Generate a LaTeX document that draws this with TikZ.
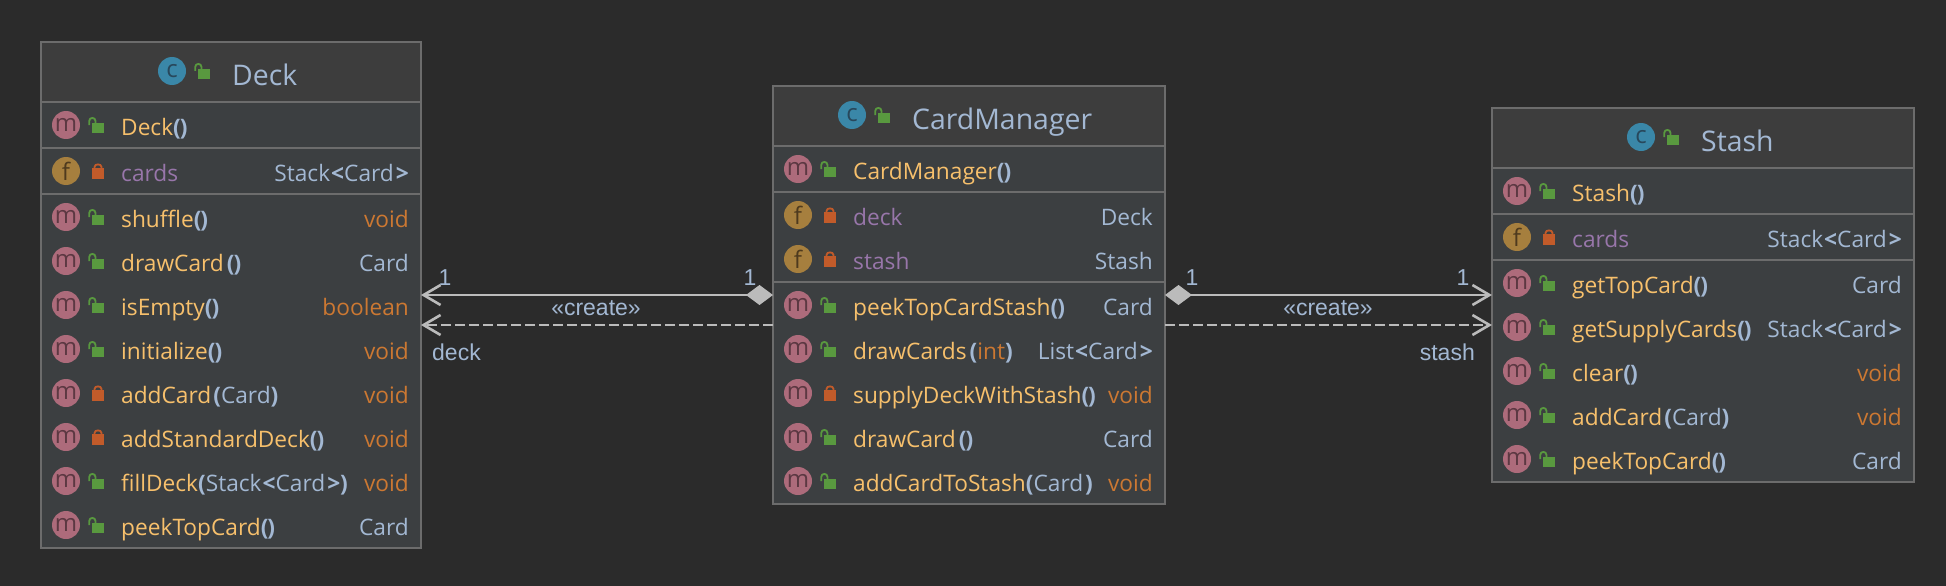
\documentclass[tikz,border=0pt]{standalone}
\usepackage{fontspec}
\setmainfont{Open Sans}
\newfontfamily\lblfont{Liberation Sans}
\usepackage{xcolor}
\usetikzlibrary{arrows.meta}

\definecolor{canvasbg}{HTML}{2B2B2B}
\definecolor{bodybg}{HTML}{3C3F41}
\definecolor{headbg}{HTML}{3D3D3D}
\definecolor{framecol}{HTML}{6C6C6C}
\definecolor{relcol}{HTML}{BBBBBB}
\definecolor{typecol}{HTML}{A3B8D3}
\definecolor{mthcol}{HTML}{F7C06C}
\definecolor{fldcol}{HTML}{9876AA}
\definecolor{kwcol}{HTML}{CC7832}
\definecolor{pubcol}{HTML}{59993F}
\definecolor{privcol}{HTML}{C25B2A}

\newcommand{\mth}[1]{{\color{mthcol}#1}}
\newcommand{\fld}[1]{{\color{fldcol}#1}}
\newcommand{\ty}[1]{{\color{typecol}#1}}
\newcommand{\kw}[1]{{\color{kwcol}#1}}
\newcommand{\pn}[1]{{\bfseries\color{typecol}#1}}
\newcommand{\ep}{\pn{(\kern-1pt)}}
\newcommand{\stk}[1]{\ty{#1\kern1pt\pn{<}Card\kern2pt\pn{>}}}

\tikzset{
    rowbadge/.style = {circle, minimum size = 28pt, inner sep = 0pt, outer sep = 0pt, font = \fontsize{24}{26}\selectfont},
    mbadge/.style = {rowbadge, fill = {rgb,255:red,173;green,107;blue,123}, text = {rgb,255:red,92;green,56;blue,66}},
    fbadge/.style = {rowbadge, fill = {rgb,255:red,166;green,127;blue,62}, text = {rgb,255:red,78;green,58;blue,30}},
    cbadge/.style = {rowbadge, fill = {rgb,255:red,58;green,135;blue,168}, text = {rgb,255:red,40;green,72;blue,92}},
    rowname/.style = {anchor = base west, inner sep = 0pt, font = \fontsize{22.7}{26}\selectfont},
    rowtype/.style = {anchor = base east, inner sep = 0pt, font = \fontsize{22.7}{26}\selectfont},
    titletext/.style = {anchor = base west, inner sep = 0pt, text = typecol, font = \fontsize{28.4}{32}\selectfont},
    classbody/.style = {rectangle, inner sep = 0pt, outer sep = 0pt, fill = bodybg},
    classframe/.style = {draw = framecol, line width = 2.2pt},
    edgelabel/.style = {anchor = base, inner sep = 0pt, text = typecol, font = \lblfont\fontsize{23}{26}\selectfont},
    solidrel/.style = {draw = relcol, line width = 2.6pt, {Diamond[length = 27pt, width = 20pt, fill = relcol]}-{Straight Barb[length = 17pt, width = 20pt]}},
    dashrel/.style = {draw = relcol, line width = 2.6pt, dash pattern = on 10pt off 4pt, -{Straight Barb[length = 17pt, width = 20pt, sep = 0pt]}},
    publock/.pic = {
        \fill[pubcol] (26,-2) rectangle (38,8);
        \draw[pubcol, line width = 1.8pt] (23.2,0) -- (23.2,-4) .. controls (23.2,-8.1) and (29.5,-8.1) .. (29.5,-4) -- (29.5,-2);
    },
    privlock/.pic = {
        \fill[privcol] (26,-3) rectangle (38,8);
        \draw[privcol, line width = 1.8pt] (28.5,-2) -- (28.5,-4) .. controls (28.5,-7.5) and (35.5,-7.5) .. (35.5,-4) -- (35.5,-2);
    }
}

% name, left, top, right, bottom, head line, other lines
\newcommand{\classbox}[7]{
    \node[classbody, minimum width = {#4-#2}, minimum height = {#5-#3}] (#1) at ({(#2+#4)/2},{(#3+#5)/2}) {};
    \fill[headbg] (#2,#3) rectangle (#4,#6);
    \foreach \sepy in {#6,#7}
        \draw[framecol, line width = 2.2pt] (#2,\sepy) -- (#4,\sepy);
    \draw[classframe] (#1.north west) rectangle (#1.south east);
}

\begin{document}
\begin{tikzpicture}[x = 1pt, y = -1pt]
\useasboundingbox (0,0) rectangle (1946,586);
\fill[canvasbg] (0,0) rectangle (1946,586);

\classbox{deck}{41}{42}{421}{548}{102}{148,194}
\classbox{manager}{773}{86}{1165}{504}{146}{192,282}
\classbox{stash}{1492}{108}{1914}{482}{168}{214,260}

% Deck
\begin{scope}[xshift = 66pt]
\node[cbadge] (deckc) at (106,71) {c};
\pic at (106,71) {publock};
\node[titletext] (decktitle) at (166,85) {Deck};
\foreach \rowid/\yy/\kind/\vis/\lhs/\rhs in {
    a/125/m/pub/{\mth{Deck}\ep}/{},
    b/171/f/priv/{\fld{cards}}/{\stk{Stack}},
    c/217/m/pub/{\mth{shuffle}\ep}/{\kw{void}},
    d/261/m/pub/{\mth{drawCard}\kern3pt\ep}/{\ty{Card}},
    e/305/m/pub/{\mth{isEmpty}\ep}/{\kw{boolean}},
    f/349/m/pub/{\mth{initialize}\ep}/{\kw{void}},
    g/393/m/priv/{\mth{addCard}\kern2pt\pn{(}\ty{Card}\pn{)}}/{\kw{void}},
    h/437/m/priv/{\mth{addStandardDeck}\ep}/{\kw{void}},
    i/481/m/pub/{\mth{fillDeck}\pn{(}\stk{Stack}\pn{)}}/{\kw{void}},
    j/525/m/pub/{\mth{peekTopCard}\ep}/{\ty{Card}}}
{
    \node[\kind badge] (deck\rowid i) at (0,\yy) {\kind};
    \pic at (0,\yy) {\vis lock};
    \node[rowname] (deck\rowid l) at (55,\yy+10.5) {\lhs};
    \node[rowtype] (deck\rowid r) at (343,\yy+10.5) {\rhs};
}
\end{scope}

% CardManager
\begin{scope}[xshift = 798pt]
\node[cbadge] (managerc) at (54,115) {c};
\pic at (54,115) {publock};
\node[titletext] (managertitle) at (114,129) {CardManager};
\foreach \rowid/\yy/\kind/\vis/\lhs/\rhs in {
    a/169/m/pub/{\mth{CardManager}\ep}/{},
    b/215/f/priv/{\fld{deck}}/{\ty{Deck}},
    c/259/f/priv/{\fld{stash}}/{\ty{Stash}},
    d/305/m/pub/{\mth{peekTopCardStash}\ep}/{\ty{Card}},
    e/349/m/pub/{\mth{drawCards}\kern3pt\pn{(}\kw{int}\pn{)}}/{\stk{List}},
    f/393/m/priv/{\mth{supplyDeckWithStash}\ep}/{\kw{void}},
    g/437/m/pub/{\mth{drawCard}\kern3pt\ep}/{\ty{Card}},
    h/481/m/pub/{\mth{addCardToStash}\pn{(}\ty{Card}\kern2pt\pn{)}}/{\kw{void}}}
{
    \node[\kind badge] (manager\rowid i) at (0,\yy) {\kind};
    \pic at (0,\yy) {\vis lock};
    \node[rowname] (manager\rowid l) at (55,\yy+10.5) {\lhs};
    \node[rowtype] (manager\rowid r) at (355,\yy+10.5) {\rhs};
}
\end{scope}

% Stash
\begin{scope}[xshift = 1517pt]
\node[cbadge] (stashc) at (124,137) {c};
\pic at (124,137) {publock};
\node[titletext] (stashtitle) at (184,151) {Stash};
\foreach \rowid/\yy/\kind/\vis/\lhs/\rhs in {
    a/191/m/pub/{\mth{Stash}\ep}/{},
    b/237/f/priv/{\fld{cards}}/{\stk{Stack}},
    c/283/m/pub/{\mth{getTopCard}\ep}/{\ty{Card}},
    d/327/m/pub/{\mth{getSupplyCards}\ep}/{\stk{Stack}},
    e/371/m/pub/{\mth{clear}\ep}/{\kw{void}},
    f/415/m/pub/{\mth{addCard}\kern2pt\pn{(}\ty{Card}\pn{)}}/{\kw{void}},
    g/459/m/pub/{\mth{peekTopCard}\ep}/{\ty{Card}}}
{
    \node[\kind badge] (stash\rowid i) at (0,\yy) {\kind};
    \pic at (0,\yy) {\vis lock};
    \node[rowname] (stash\rowid l) at (55,\yy+10.5) {\lhs};
    \node[rowtype] (stash\rowid r) at (385,\yy+10.5) {\rhs};
}
\end{scope}

\draw[solidrel] (manager.west) -- (deck.east);
\draw[dashrel] ([yshift = -30pt]manager.west) -- ([yshift = -30pt]deck.east);
\draw[solidrel] (manager.east) -- (stash.west);
\draw[dashrel] ([yshift = -30pt]manager.east) -- ([yshift = -30pt]stash.west);

\node[edgelabel] (onedeck) at (445,285) {1};
\node[edgelabel] (onemgrl) at (750,285) {1};
\node[edgelabel] (onemgrr) at (1192,285) {1};
\node[edgelabel] (onestash) at (1463,285) {1};
\node[edgelabel] (createl) at (596,315) {«create»};
\node[edgelabel] (creater) at (1328,315) {«create»};
\node[edgelabel, anchor = base west] (deckrole) at (432,360) {deck};
\node[edgelabel, anchor = base east] (stashrole) at (1475,360) {stash};
\end{tikzpicture}
\end{document}
